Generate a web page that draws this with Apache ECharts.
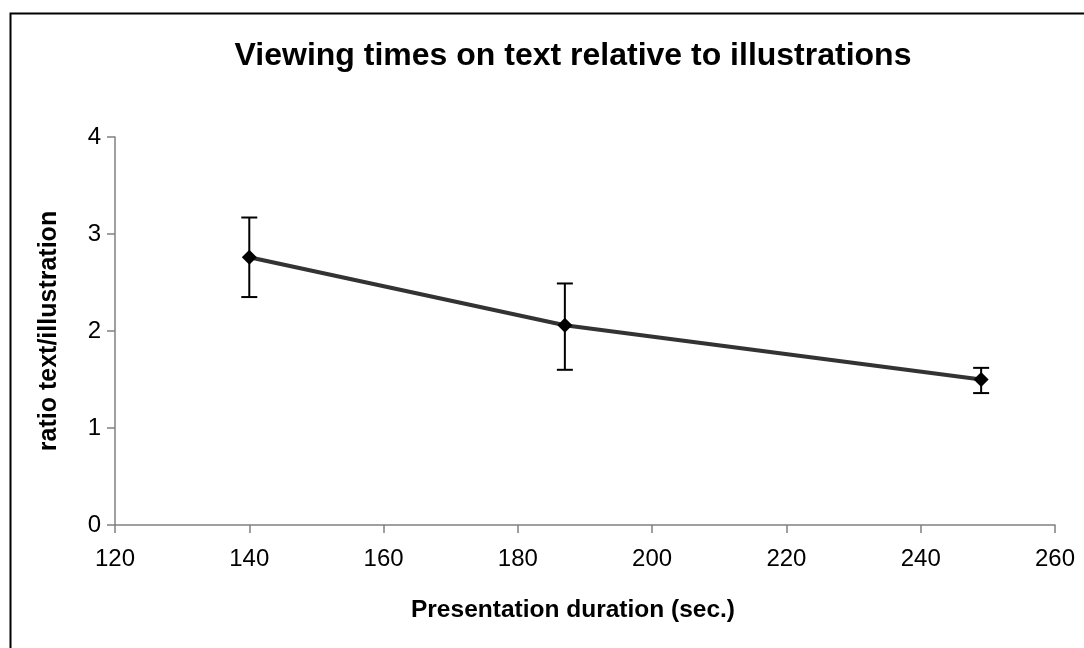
<!DOCTYPE html>
<html>
<head>
<meta charset="utf-8">
<script src="https://cdn.jsdelivr.net/npm/echarts@6/dist/echarts.min.js"></script>
<style>html,body{margin:0;padding:0;background:#fff}#c{width:1084px;height:648px}</style>
</head>
<body>
<div id="c"></div>
<script>
const durations = [140, 187, 249];
const ratios = [2.76, 2.06, 1.50];
const errLow = [2.35, 1.60, 1.36];
const errHigh = [3.17, 2.49, 1.62];
const xTicks = [120, 140, 160, 180, 200, 220, 240, 260];
const yTicks = [0, 1, 2, 3, 4];

const chart = echarts.init(document.getElementById('c'));
const font = 'Liberation Sans, Arial, sans-serif';
chart.setOption({
  animation: false,
  backgroundColor: '#fff',
  title: {
    text: 'Viewing times on text relative to illustrations',
    left: 568, top: 35, textAlign: 'center',
    textStyle: { fontFamily: font, fontWeight: 'bold', fontSize: 32, color: '#000' }
  },
  graphic: [{
    type: 'rect', left: 8, top: 11, silent: true,
    shape: { width: 1200, height: 800 },
    style: { fill: 'none', stroke: '#000', lineWidth: 2 }
  }],
  grid: { left: 115, right: 29, top: 137, bottom: 123, containLabel: false },
  xAxis: {
    type: 'value', min: xTicks[0], max: xTicks[xTicks.length - 1], interval: 20,
    splitLine: { show: false },
    axisLine: { lineStyle: { color: '#808080', width: 1.5 } },
    axisTick: { show: true, length: 8, lineStyle: { color: '#808080', width: 1.5 } },
    axisLabel: { margin: 22, fontFamily: font, fontSize: 24, color: '#000' },
    name: 'Presentation duration (sec.)', nameLocation: 'middle', nameGap: 73,
    nameTextStyle: { fontFamily: font, fontWeight: 'bold', fontSize: 24.5, color: '#000', padding: [0, 24, 0, 0] }
  },
  yAxis: {
    type: 'value', min: yTicks[0], max: yTicks[yTicks.length - 1], interval: 1,
    splitLine: { show: false },
    axisLine: { show: true, lineStyle: { color: '#808080', width: 1.5 } },
    axisTick: { show: true, length: 8, lineStyle: { color: '#808080', width: 1.5 } },
    axisLabel: { margin: 14, fontFamily: font, fontSize: 24, color: '#000' },
    name: 'ratio text/illustration', nameLocation: 'middle', nameGap: 53,
    nameTextStyle: { fontFamily: font, fontWeight: 'bold', fontSize: 25, color: '#000' }
  },
  series: [
    {
      type: 'line',
      data: durations.map((d, i) => [d, ratios[i]]),
      symbol: 'diamond', symbolSize: 15,
      itemStyle: { color: '#000' },
      lineStyle: { color: '#333', width: 4 },
      z: 3
    },
    {
      type: 'custom',
      data: durations.map((d, i) => [d, errLow[i], errHigh[i]]),
      renderItem: function (params, api) {
        const lo = api.coord([api.value(0), api.value(1)]);
        const hi = api.coord([api.value(0), api.value(2)]);
        const hw = 8;
        const st = { stroke: '#000', lineWidth: 2 };
        return {
          type: 'group',
          children: [
            { type: 'line', shape: { x1: lo[0], y1: lo[1], x2: hi[0], y2: hi[1] }, style: st },
            { type: 'line', shape: { x1: lo[0] - hw, y1: lo[1], x2: lo[0] + hw, y2: lo[1] }, style: st },
            { type: 'line', shape: { x1: hi[0] - hw, y1: hi[1], x2: hi[0] + hw, y2: hi[1] }, style: st }
          ]
        };
      },
      z: 2
    }
  ]
});
</script>
</body>
</html>
